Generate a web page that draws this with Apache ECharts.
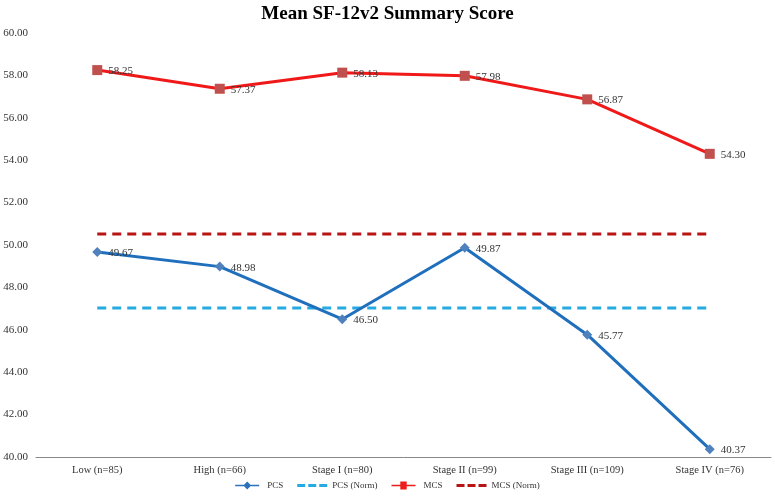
<!DOCTYPE html>
<html><head><meta charset="utf-8">
<script src="https://cdn.jsdelivr.net/npm/echarts@6/dist/echarts.min.js"></script>
<style>html,body{margin:0;padding:0;background:#fff}#c{width:775px;height:498px}</style>
</head><body><div id="c"></div>
<script>
var categories = ['Low (n=85)', 'High (n=66)', 'Stage I (n=80)', 'Stage II (n=99)', 'Stage III (n=109)', 'Stage IV (n=76)'];
var pcs = [49.67, 48.98, 46.50, 49.87, 45.77, 40.37];
var pcsNorm = [47.03, 47.03, 47.03, 47.03, 47.03, 47.03];
var mcs = [58.25, 57.37, 58.13, 57.98, 56.87, 54.30];
var mcsNorm = [50.52, 50.52, 50.52, 50.52, 50.52, 50.52];
var yTicks = {min: 40, max: 60, interval: 2};

var font = '"Liberation Serif", "Times New Roman", serif';
var chart = echarts.init(document.getElementById('c'));
var lbl = {show: true, position: 'right', distance: 6, fontFamily: font, fontSize: 11, color: '#333', offset: [0, 1],
  formatter: function(p){return p.value.toFixed(2);}};
var dashIcon = 'path://M0,0h8v3h-8z M11,0h8v3h-8z M22,0h8v3h-8z';
var lineDiamond = 'path://M0,6h11l4,-4l4,4h11v2h-11l-4,4l-4,-4h-11z';
var lineSquare = 'path://M0,6h11v-4h8v4h11v2h-11v4h-8v-4h-11z';
chart.setOption({
  animation: false,
  textStyle: {fontFamily: font},
  title: {text: 'Mean SF-12v2 Summary Score', left: 'center', top: 0,
    textStyle: {fontFamily: font, fontSize: 19, fontWeight: 'bold', color: '#000'}},
  grid: {left: 36, right: 4, top: 33, bottom: 41},
  legend: {bottom: 3, left: 'center', itemWidth: 30, itemHeight: 8, itemGap: 14,
    textStyle: {fontFamily: font, fontSize: 9, color: '#333'},
    data: [
      {name: 'PCS', icon: lineDiamond, itemStyle: {color: '#2a72bb'}},
      {name: 'PCS (Norm)', icon: dashIcon, itemStyle: {color: '#25aae2'}},
      {name: 'MCS', icon: lineSquare, itemStyle: {color: '#ee1c1c'}},
      {name: 'MCS (Norm)', icon: dashIcon, itemStyle: {color: '#b81414'}}
    ]},
  xAxis: {type: 'category', data: categories, boundaryGap: true,
    axisLine: {lineStyle: {color: '#888', width: 1}}, axisTick: {show: false},
    axisLabel: {fontFamily: font, fontSize: 10.5, color: '#333', margin: 8}},
  yAxis: {type: 'value', min: yTicks.min, max: yTicks.max, interval: yTicks.interval,
    axisLine: {show: false}, axisTick: {show: false}, splitLine: {show: false},
    axisLabel: {fontFamily: font, fontSize: 11, color: '#333', margin: 8,
      formatter: function(v){return v.toFixed(2);}}},
  series: [
    {name: 'PCS', type: 'line', data: pcs, symbol: 'diamond', symbolSize: 10,
      lineStyle: {color: '#1f6fbd', width: 3}, itemStyle: {color: '#4f81bd'}, label: lbl, z: 5},
    {name: 'PCS (Norm)', type: 'line', data: pcsNorm, symbol: 'none',
      lineStyle: {color: '#25aae2', width: 3, type: [9, 6]}, itemStyle: {color: '#25aae2'}},
    {name: 'MCS', type: 'line', data: mcs, symbol: 'rect', symbolSize: 10,
      lineStyle: {color: '#f01919', width: 3}, itemStyle: {color: '#c0504d'}, label: lbl, z: 5},
    {name: 'MCS (Norm)', type: 'line', data: mcsNorm, symbol: 'none',
      lineStyle: {color: '#b81414', width: 3, type: [9, 6]}, itemStyle: {color: '#b81414'}}
  ]
});
</script></body></html>
